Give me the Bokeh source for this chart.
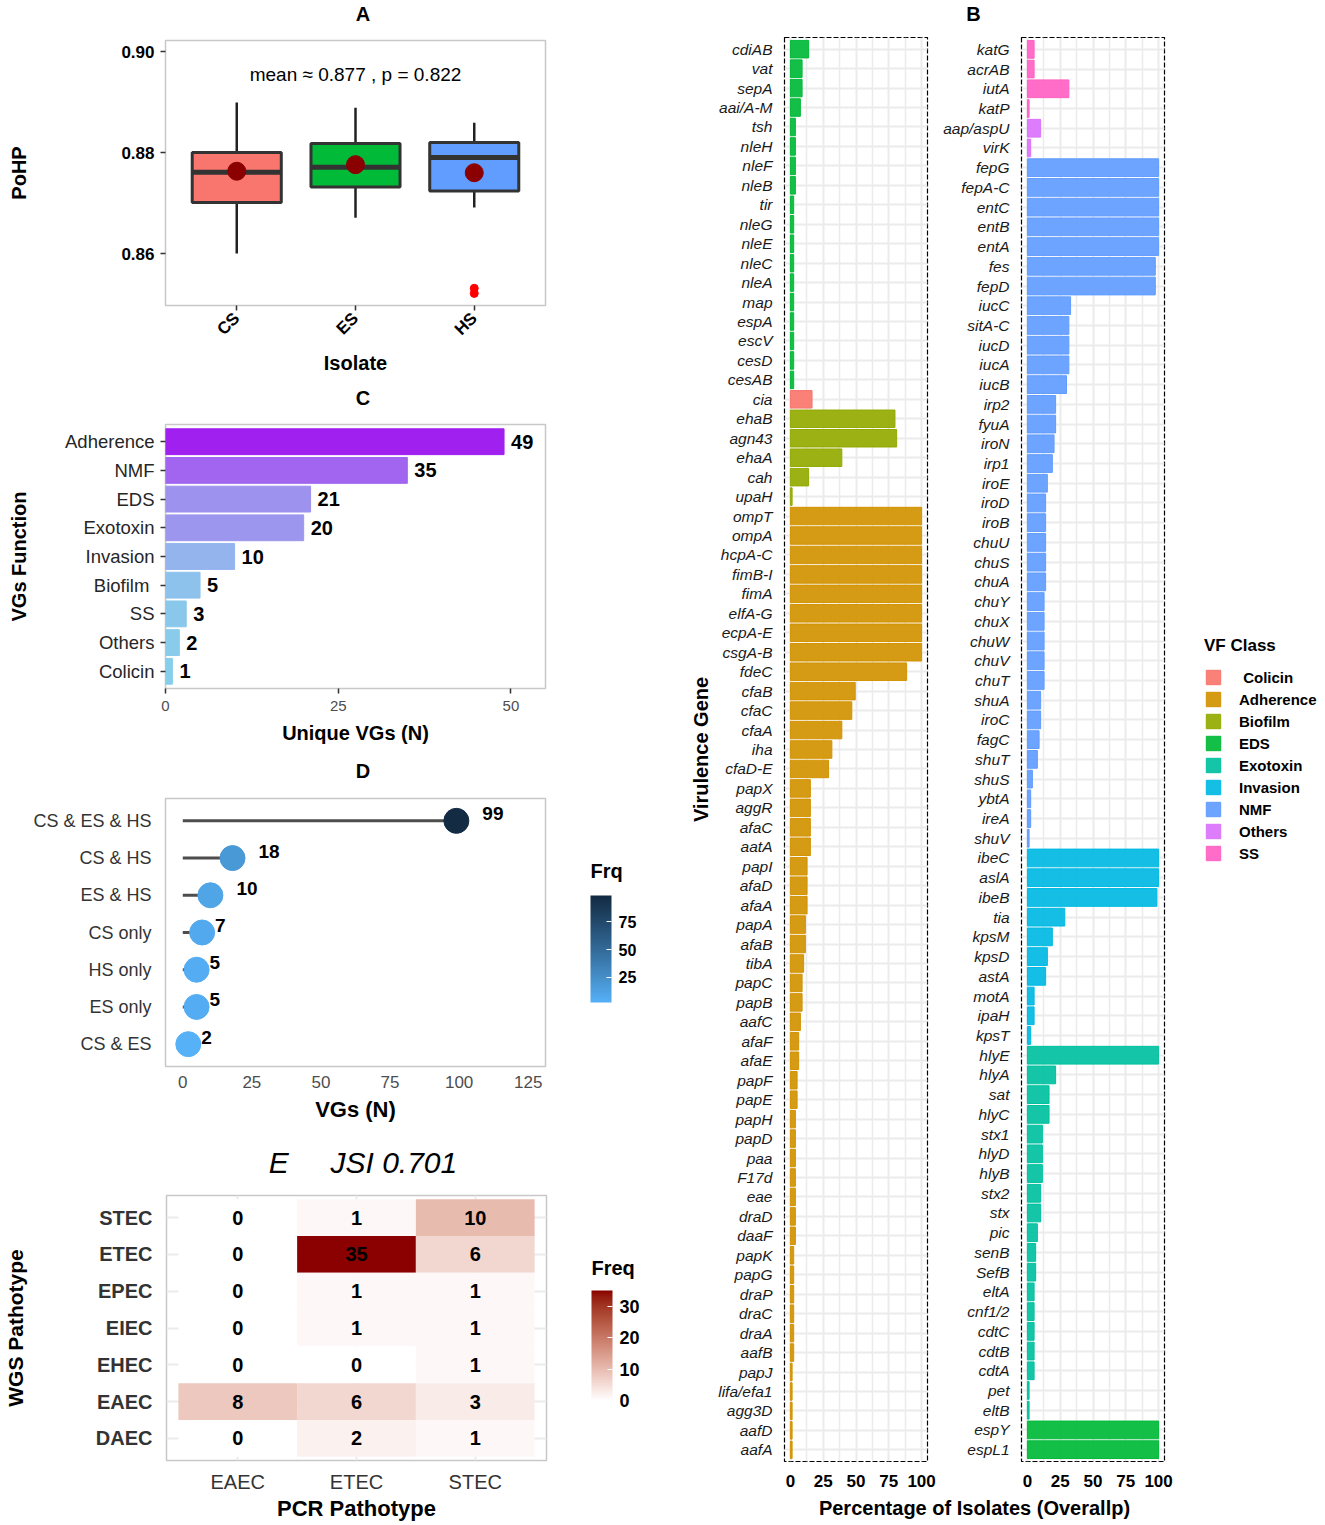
import math
from bokeh.plotting import figure
from bokeh.models import (FactorRange, Range1d, FixedTicker, ColorBar, LinearColorMapper,
                          Legend, LegendItem, ColumnDataSource, PrintfTickFormatter)
from bokeh.layouts import row, column
from bokeh.embed import file_html
from bokeh.resources import INLINE
from bokeh.core.properties import value
from bokeh.transform import transform

FONT = "Liberation Sans"

# ---------------- Panel A data ----------------
isolates = ["CS", "ES", "HS"]
box_q1 = [0.8701, 0.8732, 0.8724]
box_median = [0.8761, 0.8771, 0.8790]
box_q3 = [0.8800, 0.8818, 0.8820]
whisker_low = [0.8600, 0.8671, 0.8691]
whisker_high = [0.8899, 0.8889, 0.8859]
box_mean = [0.8763, 0.8776, 0.8760]
outlier_isolate = ["HS", "HS"]
outlier_value = [0.8531, 0.8521]
overall_mean = 0.877
p_value = 0.822
isolate_colors = ["#F8766D", "#00BA38", "#619CFF"]
pohp_ticks = [0.86, 0.88, 0.90]

# ---------------- Panel C data ----------------
vg_functions = ["Adherence", "NMF", "EDS", "Exotoxin", "Invasion", "Biofilm ", "SS", "Others", "Colicin"]
vg_counts = [49, 35, 21, 20, 10, 5, 3, 2, 1]

# ---------------- Panel D data ----------------
share_sets = ["CS & ES & HS", "CS & HS", "ES & HS", "CS only", "HS only", "ES only", "CS & ES"]
share_counts = [99, 18, 10, 7, 5, 5, 2]

# ---------------- Panel E data ----------------
pcr_types = ["EAEC", "ETEC", "STEC"]
wgs_types = ["STEC", "ETEC", "EPEC", "EIEC", "EHEC", "EAEC", "DAEC"]
freq_pcr_eaec = [0, 0, 0, 0, 0, 8, 0]
freq_pcr_etec = [1, 35, 1, 1, 0, 6, 2]
freq_pcr_stec = [10, 6, 1, 1, 1, 3, 1]
jsi_value = 0.701

# ---------------- Panel B data ----------------
left_genes = ["cdiAB", "vat", "sepA", "aai/A-M", "tsh", "nleH", "nleF", "nleB", "tir", "nleG",
              "nleE", "nleC", "nleA", "map", "espA", "escV", "cesD", "cesAB",
              "cia", "ehaB", "agn43", "ehaA", "cah", "upaH",
              "ompT", "ompA", "hcpA-C", "fimB-I", "fimA", "elfA-G", "ecpA-E", "csgA-B", "fdeC",
              "cfaB", "cfaC", "cfaA", "iha", "cfaD-E", "papX", "aggR", "afaC", "aatA", "papI",
              "afaD", "afaA", "papA", "afaB", "tibA", "papC", "papB", "aafC", "afaF", "afaE",
              "papF", "papE", "papH", "papD", "paa", "F17d", "eae", "draD", "daaF", "papK",
              "papG", "draP", "draC", "draA", "aafB", "papJ", "lifa/efa1", "agg3D", "aafD", "aafA"]
left_pct = [13.9, 8.9, 8.9, 7.6, 3.8, 3.8, 3.8, 3.8, 2.5, 2.5, 2.5, 2.5, 2.5, 2.5, 2.5, 2.5, 2.5, 2.5,
            16.5, 79.7, 81.0, 39.2, 13.9, 1.3,
            100, 100, 100, 100, 100, 100, 100, 100, 88.6, 49.4, 46.8, 39.2, 31.6, 29.1,
            15.2, 15.2, 15.2, 15.2, 12.7, 12.7, 12.7, 11.4, 11.4, 10.1, 8.9, 8.9, 7.6, 6.3, 6.3,
            5.1, 5.1, 3.8, 3.8, 3.8, 3.8, 3.8, 3.8, 3.8, 2.5, 2.5, 2.5, 2.5, 2.5, 2.5,
            1.3, 1.3, 1.3, 1.3, 1.3]
left_class = ["EDS"] * 18 + ["Colicin"] + ["Biofilm"] * 5 + ["Adherence"] * 49

right_genes = ["katG", "acrAB", "iutA", "katP", "aap/aspU", "virK",
               "fepG", "fepA-C", "entC", "entB", "entA", "fes", "fepD", "iucC", "sitA-C", "iucD",
               "iucA", "iucB", "irp2", "fyuA", "iroN", "irp1", "iroE", "iroD", "iroB", "chuU",
               "chuS", "chuA", "chuY", "chuX", "chuW", "chuV", "chuT", "shuA", "iroC", "fagC",
               "shuT", "shuS", "ybtA", "ireA", "shuV",
               "ibeC", "aslA", "ibeB", "tia", "kpsM", "kpsD", "astA", "motA", "ipaH", "kpsT",
               "hlyE", "hlyA", "sat", "hlyC", "stx1", "hlyD", "hlyB", "stx2", "stx", "pic",
               "senB", "SefB", "eltA", "cnf1/2", "cdtC", "cdtB", "cdtA", "pet", "eltB",
               "espY", "espL1"]
right_pct = [5.1, 5.1, 31.6, 1.3, 10.1, 2.5,
             100, 100, 100, 100, 100, 97.5, 97.5, 32.9, 31.6, 31.6, 31.6, 29.8, 21.5, 21.5,
             20.3, 19.0, 15.2, 13.9, 13.9, 13.9, 13.9, 13.9, 12.7, 12.7, 12.7, 12.7, 12.7,
             10.1, 10.1, 8.9, 7.6, 3.8, 2.5, 2.5, 1.3,
             100, 100, 98.7, 28.5, 19.0, 15.2, 13.9, 5.1, 5.1, 2.5,
             100, 21.5, 16.5, 16.5, 11.4, 11.4, 11.4, 10.1, 10.1, 7.6, 6.3, 6.3, 5.1, 5.1,
             5.1, 5.1, 5.1, 1.3, 1.3,
             100, 100]
right_class = ["SS"] * 4 + ["Others"] * 2 + ["NMF"] * 35 + ["Invasion"] * 10 + ["Exotoxin"] * 19 + ["EDS"] * 2

vf_classes = ["Colicin", "Adherence", "Biofilm", "EDS", "Exotoxin", "Invasion", "NMF", "Others", "SS"]
vf_labels = [" Colicin", "Adherence", "Biofilm", "EDS", "Exotoxin", "Invasion", "NMF", "Others", "SS"]
vf_colors = ["#F8766D", "#D39200", "#93AA00", "#00BA38", "#00C19F", "#00B9E3", "#619CFF", "#DB72FB", "#FF61C3"]
pct_ticks = [0, 25, 50, 75, 100]
pct_minor = [12.5, 37.5, 62.5, 87.5]

panel_titles = ["A", "B", "C", "D", "E\u00a0\u00a0\u00a0\u00a0\u00a0JSI %.3f" % jsi_value]
b_xlabel = "Percentage of Isolates (Overallp)"


# ---------------- colour helpers (Lab interpolation, like ggplot) ----------------
def _hex_rgb(h):
    h = h.lstrip("#")
    return tuple(int(h[i:i + 2], 16) for i in (0, 2, 4))


def _to_lab(h):
    def lin(c):
        c = c / 255.0
        return c / 12.92 if c <= 0.04045 else ((c + 0.055) / 1.055) ** 2.4
    r, g, b = [lin(c) for c in _hex_rgb(h)]
    X = (0.4124 * r + 0.3576 * g + 0.1805 * b) / 0.95047
    Y = 0.2126 * r + 0.7152 * g + 0.0722 * b
    Z = (0.0193 * r + 0.1192 * g + 0.9505 * b) / 1.08883
    f = lambda t: t ** (1 / 3) if t > 0.008856 else 7.787 * t + 16 / 116
    fx, fy, fz = f(X), f(Y), f(Z)
    return (116 * fy - 16, 500 * (fx - fy), 200 * (fy - fz))


def _from_lab(L, a, b):
    fy = (L + 16) / 116
    fx = fy + a / 500
    fz = fy - b / 200
    inv = lambda t: t ** 3 if t ** 3 > 0.008856 else (t - 16 / 116) / 7.787
    X = inv(fx) * 0.95047
    Y = inv(fy)
    Z = inv(fz) * 1.08883
    r = 3.2406 * X - 1.5372 * Y - 0.4986 * Z
    g = -0.9689 * X + 1.8758 * Y + 0.0415 * Z
    bb = 0.0557 * X - 0.2040 * Y + 1.0570 * Z

    def enc(c):
        c = max(c, 0.0)
        c = 12.92 * c if c <= 0.0031308 else 1.055 * (c ** (1 / 2.4)) - 0.055
        return int(round(min(1.0, max(0.0, c)) * 255))
    return "#%02x%02x%02x" % (enc(r), enc(g), enc(bb))


def mix(lo, hi, t):
    a, b = _to_lab(lo), _to_lab(hi)
    return _from_lab(*[a[i] + (b[i] - a[i]) * t for i in range(3)])


def ramp(lo, hi, n=256):
    return [mix(lo, hi, i / (n - 1)) for i in range(n)]


def base_fig(**kw):
    p = figure(toolbar_location=None, output_backend="svg", **kw)
    p.background_fill_color = "white"
    p.border_fill_color = "white"
    p.outline_line_color = "#C8C8C8"
    p.outline_line_width = 1.5
    return p


def _blank_style(f):
    f.outline_line_color = None
    f.background_fill_color = "white"
    f.border_fill_color = "white"
    for g in f.grid:
        g.visible = False
    return f


def strip_fig(width, height):
    # text strip whose canvas is its own pixel coordinate system
    f = figure(width=width, height=height, x_range=Range1d(0, width), y_range=Range1d(0, height),
               toolbar_location=None, output_backend="svg", x_axis_location=None,
               y_axis_location=None, min_border=0)
    return _blank_style(f)


def side_fig(width, frame_h, top, bottom):
    # companion column whose frame lines up with the neighbouring panel's frame
    f = figure(frame_width=width, frame_height=frame_h, x_range=Range1d(0, width),
               y_range=Range1d(0, frame_h), toolbar_location=None, output_backend="svg",
               x_axis_location=None, y_axis_location=None, min_border_left=0,
               min_border_right=0, min_border_top=top, min_border_bottom=bottom)
    return _blank_style(f)


def strip_text(f, x, y, txt, size="20px", style="bold", align="center"):
    f.text(x=[x], y=[y], text=[txt], text_align=align, text_baseline="middle",
           text_font=value(FONT), text_font_size=size, text_font_style=style, text_color="black")


def style_axis(ax, size, color, style="normal", standoff=5, tick_out=0):
    ax.major_label_text_font = FONT
    ax.major_label_text_font_size = size
    ax.major_label_text_color = color
    ax.major_label_text_font_style = style
    ax.major_label_standoff = standoff
    ax.axis_line_color = None
    ax.minor_tick_line_color = None
    ax.major_tick_in = 0
    ax.major_tick_out = tick_out
    if tick_out:
        ax.major_tick_line_color = "#333333"
        ax.major_tick_line_width = 1.5
    else:
        ax.major_tick_line_color = None


def style_axis_label(ax, text, size, standoff):
    ax.axis_label = text
    ax.axis_label_text_font = FONT
    ax.axis_label_text_font_size = size
    ax.axis_label_text_font_style = "bold"
    ax.axis_label_text_color = "black"
    ax.axis_label_standoff = standoff


def color_bar(mapper, ticks, label_size, bar_h):
    return ColorBar(color_mapper=mapper, width=21, height=bar_h,
                    ticker=FixedTicker(ticks=ticks),
                    major_label_text_font=FONT, major_label_text_font_size=label_size,
                    major_label_text_font_style="bold", major_label_text_color="black",
                    label_standoff=7, major_tick_line_color="white", major_tick_in=5,
                    major_tick_out=0, padding=0, margin=0, background_fill_alpha=0,
                    border_line_color=None, bar_line_color=None)


LEFT_W = 683
LEFT_B, FRAME_W, RIGHT_B = 165, 380, 138
TITLE_X = LEFT_B + FRAME_W / 2
CB_W = LEFT_W - (LEFT_B + FRAME_W + 10)

# ================= Panel A =================
tA = strip_fig(LEFT_W, 28)
strip_text(tA, TITLE_X, 15, panel_titles[0])
pA = base_fig(x_range=FactorRange(factors=isolates, range_padding=0.1, range_padding_units="absolute"),
              y_range=Range1d(0.8497, 0.9022), frame_width=FRAME_W, frame_height=265,
              min_border_left=LEFT_B, min_border_right=RIGHT_B, min_border_top=12, min_border_bottom=79)
pA.xgrid.visible = False
pA.ygrid.visible = False
pA.segment(x0=isolates, y0=box_q3, x1=isolates, y1=whisker_high, line_color="#222222", line_width=2.5)
pA.segment(x0=isolates, y0=box_q1, x1=isolates, y1=whisker_low, line_color="#222222", line_width=2.5)
pA.vbar(x=isolates, bottom=box_q1, top=box_q3, width=0.75, fill_color=isolate_colors,
        line_color="#333333", line_width=3)
pA.rect(x=isolates, y=box_median, width=0.75, height=5, height_units="screen",
        fill_color="#333333", line_color=None)
pA.scatter(x=isolates, y=box_mean, size=18, fill_color="#8B0000", line_color="#8B0000")
pA.scatter(x=outlier_isolate, y=outlier_value, size=8, fill_color="red", line_color="red")
pA.text(x=[isolates[1]], y=[0.8955], text=["mean \u2248 %.3f , p = %.3f" % (overall_mean, p_value)],
        text_align="center", text_baseline="middle", text_font=value(FONT),
        text_font_size="19px", text_color="black")
pA.yaxis.ticker = FixedTicker(ticks=pohp_ticks)
pA.yaxis.formatter = PrintfTickFormatter(format="%.2f")
style_axis(pA.yaxis[0], "17px", "black", "bold", standoff=6, tick_out=5)
style_axis_label(pA.yaxis[0], "PoHP", "20px", 88)
style_axis(pA.xaxis[0], "17px", "black", "bold", standoff=5, tick_out=5)
pA.xaxis.major_label_orientation = math.pi / 4
style_axis_label(pA.xaxis[0], "Isolate", "20px", 3)

# ================= Panel C =================
tC = strip_fig(LEFT_W, 28)
strip_text(tC, TITLE_X, 15, panel_titles[2])
c_lo, c_hi = min(vg_counts), max(vg_counts)
c_colors = [mix("#87CEEB", "#A020F0", (n - c_lo) / (c_hi - c_lo)) for n in vg_counts]
pC = base_fig(y_range=FactorRange(factors=vg_functions[::-1], range_padding=0.1, range_padding_units="absolute"),
              x_range=Range1d(0, 55), frame_width=FRAME_W, frame_height=264,
              min_border_left=LEFT_B, min_border_right=RIGHT_B, min_border_top=12, min_border_bottom=68)
pC.xgrid.visible = False
pC.ygrid.visible = False
pC.hbar(y=vg_functions, left=0, right=vg_counts, height=0.9, fill_color=c_colors, line_color=c_colors)
pC.text(x=vg_counts, y=vg_functions, text=[str(n) for n in vg_counts], x_offset=7,
        text_baseline="middle", text_align="left", text_font=value(FONT),
        text_font_size="20px", text_font_style="bold", text_color="black")
pC.xaxis.ticker = FixedTicker(ticks=[0, 25, 50])
style_axis(pC.xaxis[0], "15px", "#4D4D4D", standoff=7, tick_out=5)
style_axis_label(pC.xaxis[0], "Unique VGs (N)", "20px", 8)
style_axis(pC.yaxis[0], "18.5px", "#262626", standoff=6, tick_out=5)
style_axis_label(pC.yaxis[0], "VGs Function", "20px", 32)

# ================= Panel D =================
tD = strip_fig(LEFT_W, 30)
strip_text(tD, TITLE_X, 16, panel_titles[3])
d_palette = ramp("#56B1F7", "#132B43")
d_mapper = LinearColorMapper(palette=d_palette, low=min(share_counts), high=max(share_counts))
d_src = ColumnDataSource(dict(sets=share_sets, n=share_counts,
                              lab=[str(n) for n in share_counts],
                              off=[13 * len(str(n)) for n in share_counts]))
pD = base_fig(y_range=FactorRange(factors=share_sets[::-1], range_padding=0.1, range_padding_units="absolute"),
              x_range=Range1d(-6.25, 131.25), frame_width=FRAME_W, frame_height=268,
              min_border_left=LEFT_B, min_border_right=10, min_border_top=12, min_border_bottom=62)
pD.xgrid.visible = False
pD.ygrid.visible = False
pD.segment(x0=0, y0="sets", x1="n", y1="sets", source=d_src, line_color="#4D4D4D", line_width=3)
pD.scatter(x="n", y="sets", source=d_src, size=25,
           fill_color=transform("n", d_mapper), line_color=transform("n", d_mapper))
pD.text(x="n", y="sets", text="lab", source=d_src, x_offset="off", y_offset=-7,
        text_baseline="middle", text_align="left", text_font=value(FONT),
        text_font_size="19px", text_font_style="bold", text_color="black")
pD.xaxis.ticker = FixedTicker(ticks=[0, 25, 50, 75, 100, 125])
style_axis(pD.xaxis[0], "17px", "#4D4D4D", standoff=9)
style_axis_label(pD.xaxis[0], "VGs (N)", "22px", 6)
style_axis(pD.yaxis[0], "18px", "#333333", standoff=14)

cD = side_fig(CB_W, 268, top=12, bottom=62)
cbD = color_bar(d_mapper, [25, 50, 75], "16px", 107)
cbD.location = (35, 64)
cD.add_layout(cbD)
strip_text(cD, 35, 196, "Frq", align="left")

# ================= Panel E =================
tE = strip_fig(LEFT_W, 55)
strip_text(tE, TITLE_X, 21, panel_titles[4], size="30px", style="italic")
e_palette = ramp("#FFFFFF", "#8B0000")
e_mapper = LinearColorMapper(palette=e_palette, low=0, high=35)
tile_pcr, tile_wgs, tile_n = [], [], []
for pcr, col in zip(pcr_types, [freq_pcr_eaec, freq_pcr_etec, freq_pcr_stec]):
    for wgs, n in zip(wgs_types, col):
        tile_pcr.append(pcr)
        tile_wgs.append(wgs)
        tile_n.append(n)
e_src = ColumnDataSource(dict(pcr=tile_pcr, wgs=tile_wgs, n=tile_n, lab=[str(n) for n in tile_n]))
pE = base_fig(x_range=FactorRange(factors=pcr_types, range_padding=0.1, range_padding_units="absolute"),
              y_range=FactorRange(factors=wgs_types[::-1], range_padding=0.1, range_padding_units="absolute"),
              frame_width=FRAME_W, frame_height=265,
              min_border_left=LEFT_B, min_border_right=10, min_border_top=12, min_border_bottom=63)
pE.xgrid.grid_line_color = "#EBEBEB"
pE.xgrid.grid_line_width = 2
pE.ygrid.grid_line_color = "#EBEBEB"
pE.ygrid.grid_line_width = 2
pE.rect(x="pcr", y="wgs", width=1, height=1, source=e_src,
        fill_color=transform("n", e_mapper), line_color=None)
pE.text(x="pcr", y="wgs", text="lab", source=e_src, text_align="center", text_baseline="middle",
        text_font=value(FONT), text_font_size="20px", text_font_style="bold", text_color="black")
style_axis(pE.xaxis[0], "20px", "#333333", standoff=10)
style_axis_label(pE.xaxis[0], "PCR Pathotype", "22px", 0)
style_axis(pE.yaxis[0], "20px", "#333333", "bold", standoff=14)
style_axis_label(pE.yaxis[0], "WGS Pathotype", "21px", 66)

cE = side_fig(CB_W, 265, top=12, bottom=63)
cbE = color_bar(e_mapper, [0, 10, 20, 30], "18px", 110)
cbE.location = (35, 60)
cE.add_layout(cbE)
strip_text(cE, 35, 193, "Freq", align="left")

# ================= Panel B =================
class_color = dict(zip(vf_classes, vf_colors))


def gene_panel(genes, pct, classes, left_border, right_border):
    p = base_fig(y_range=FactorRange(factors=genes[::-1], range_padding=0.1, range_padding_units="absolute"),
                 x_range=Range1d(-4.5, 104.5), frame_width=143, frame_height=1424,
                 min_border_left=left_border, min_border_right=right_border,
                 min_border_top=9, min_border_bottom=31)
    p.outline_line_color = "black"
    p.outline_line_dash = "5 2"
    p.outline_line_width = 1.2
    tick = FixedTicker(ticks=pct_ticks, minor_ticks=pct_minor)
    p.xaxis.ticker = tick
    p.xgrid.ticker = tick
    p.xgrid.grid_line_color = "#EBEBEB"
    p.xgrid.grid_line_width = 2
    p.xgrid.minor_grid_line_color = "#EBEBEB"
    p.xgrid.minor_grid_line_width = 1.5
    p.ygrid.grid_line_color = "#EBEBEB"
    p.ygrid.grid_line_width = 2
    cols = [class_color[c] for c in classes]
    p.hbar(y=genes, left=0, right=pct, height=0.9, fill_color=cols, fill_alpha=0.92,
           line_color=cols, line_width=1)
    style_axis(p.xaxis[0], "17px", "black", "bold", standoff=9)
    style_axis(p.yaxis[0], "15.5px", "#1A1A1A", "italic", standoff=12)
    return p


pB1 = gene_panel(left_genes, left_pct, left_class, 100, 10)
style_axis_label(pB1.yaxis[0], "Virulence Gene", "20px", 3)
pB2 = gene_panel(right_genes, right_pct, right_class, 84, 160)

# legend proxies: one (undrawn) bar per class, only used for the legend swatch
items = []
nan = float("nan")
for cls, lab, colr in zip(vf_classes, vf_labels, vf_colors):
    r = pB2.hbar(y=[right_genes[0]], left=[nan], right=[nan], height=0.9,
                 fill_color=colr, fill_alpha=0.92, line_color=colr)
    items.append(LegendItem(label=lab, renderers=[r]))
legend = Legend(items=items, location=(40, 599), title="VF Class",
                title_text_font=FONT, title_text_font_size="17px", title_text_font_style="bold",
                title_text_color="black", title_standoff=12,
                label_text_font=FONT, label_text_font_size="15px", label_text_font_style="bold",
                label_text_color="black", label_standoff=17, label_height=18,
                glyph_width=18, glyph_height=18, spacing=4, padding=4, margin=0,
                border_line_color=None, background_fill_alpha=0)
pB2.add_layout(legend, "right")

B_W = 253 + 387
tB = strip_fig(B_W, 28)
strip_text(tB, 972 - LEFT_W, 15, panel_titles[1])
pL = strip_fig(B_W, 31)
strip_text(pL, 973 - LEFT_W, 16, b_xlabel)

left_col = column(tA, pA, tC, pC, tD, row(pD, cD), tE, row(pE, cE))
right_col = column(tB, row(pB1, pB2), pL)
layout = row(left_col, right_col)
open("out.html", "w").write(file_html(layout, INLINE))
